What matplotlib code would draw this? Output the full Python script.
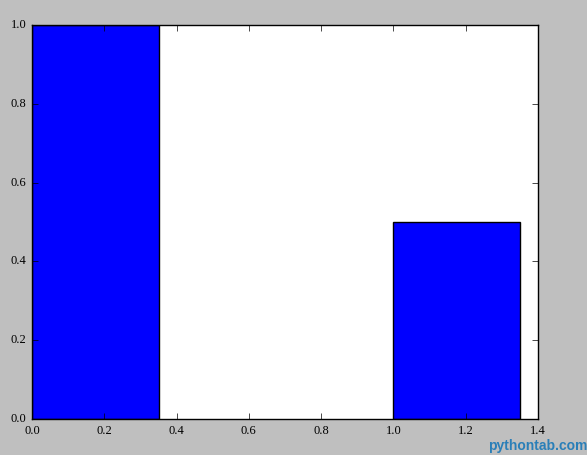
import matplotlib
matplotlib.use("Agg")
import matplotlib.pyplot as plt

# bar data
x_pos = [0, 1]
heights = [1.0, 0.5]
bar_width = 0.35

plt.style.use("classic")
plt.rcParams['font.family'] = ['Liberation Serif', 'DejaVu Serif']

fig = plt.figure(figsize=(5.87, 4.55), dpi=100, facecolor='#bfbfbf')
ax = fig.add_axes([32 / 587, 1 - 419 / 455, (538 - 32) / 587, (419 - 25) / 455])

ax.bar(x_pos, heights, bar_width, align='edge', color='blue', edgecolor='black')
ax.set_xlim(0, 1.4)
ax.set_ylim(0, 1.0)
ax.tick_params(labelsize=9)

# watermark
fig.text(1.0, 0.004, "pythontab.com", ha='right', va='bottom',
         color='#2a7fb8', fontsize=10, fontweight='bold',
         family=['Liberation Sans', 'DejaVu Sans'])

fig.savefig("out.png", dpi=100, facecolor=fig.get_facecolor())
